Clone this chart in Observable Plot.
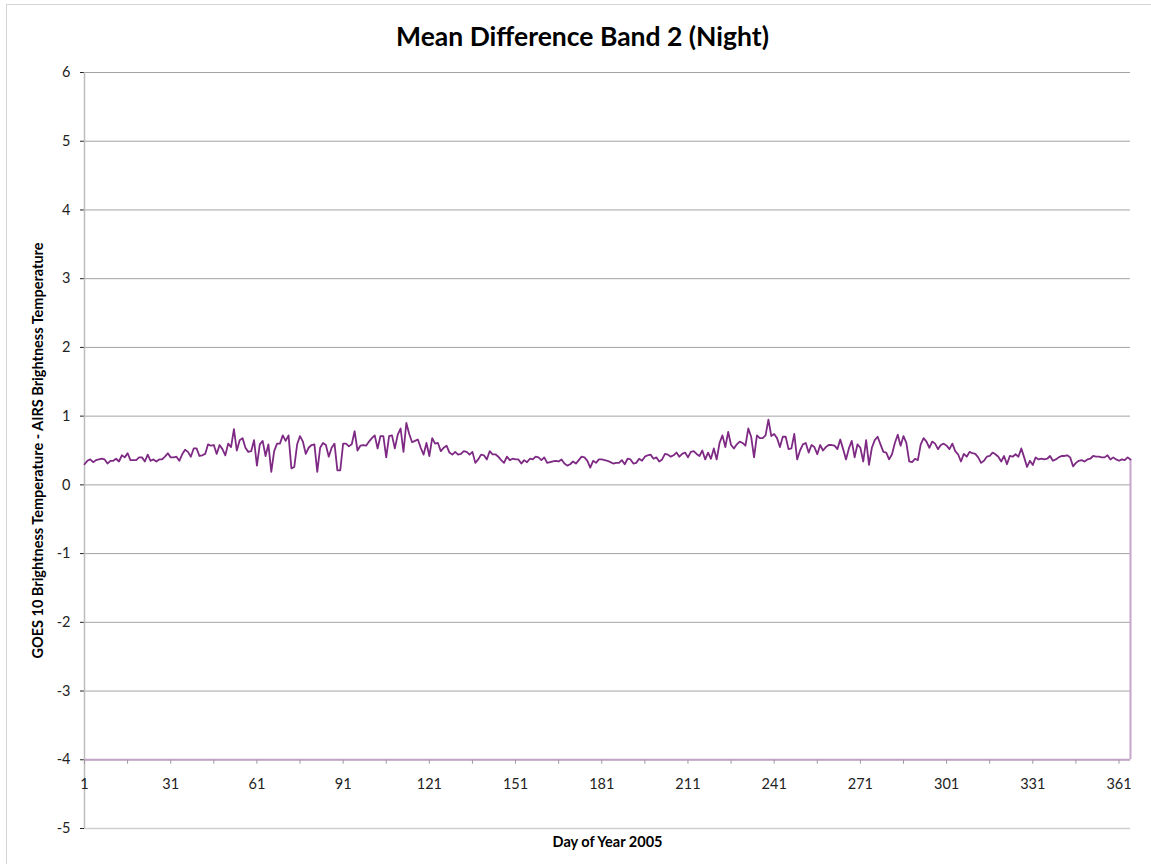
<!DOCTYPE html>
<html><head><meta charset="utf-8">
<script src="https://cdn.jsdelivr.net/npm/d3@7"></script>
<script src="https://cdn.jsdelivr.net/npm/@observablehq/plot@0.6"></script>
<style>
body{margin:0;background:#fff;font-family:Lato,"Open Sans",sans-serif;}
#wrap{position:relative;width:1151px;height:864px;overflow:hidden;}
#frame{position:absolute;left:6px;top:4px;width:1160px;height:880px;border:1px solid #d4d4d4;}
#title{position:absolute;top:20px;left:0;width:1165px;text-align:center;font-weight:bold;font-size:26.5px;color:#000;font-family:Lato,sans-serif;}
#chart{position:absolute;left:0;top:0;}
</style></head><body>
<div id="wrap"><div id="frame"></div><div id="title">Mean Difference Band 2 (Night)</div><div id="chart"></div></div>
<script>
const titleText = "Mean Difference Band 2 (Night)";
const yLabel = "GOES 10 Brightness Temperature - AIRS Brightness Temperature";
const xLabel = "Day of Year 2005";
const days = d3.range(1, 366);
const values = [
0.30,0.35,0.37,0.33,0.36,0.37,0.38,0.37,0.31,0.35,
0.35,0.38,0.34,0.43,0.40,0.46,0.36,0.36,0.36,0.40,
0.40,0.34,0.44,0.35,0.37,0.34,0.37,0.37,0.41,0.46,
0.40,0.40,0.41,0.35,0.445,0.51,0.48,0.41,0.53,0.53,
0.42,0.43,0.45,0.59,0.57,0.58,0.45,0.58,0.52,0.43,
0.60,0.55,0.81,0.50,0.65,0.68,0.54,0.48,0.49,0.65,
0.28,0.59,0.64,0.42,0.59,0.19,0.49,0.60,0.60,0.72,
0.64,0.72,0.24,0.26,0.59,0.71,0.63,0.45,0.54,0.58,
0.59,0.19,0.54,0.61,0.58,0.41,0.54,0.60,0.21,0.21,
0.60,0.60,0.56,0.59,0.78,0.50,0.57,0.58,0.57,0.63,
0.68,0.72,0.53,0.71,0.71,0.40,0.71,0.72,0.53,0.73,
0.82,0.48,0.90,0.74,0.62,0.64,0.66,0.54,0.44,0.61,
0.42,0.68,0.60,0.61,0.49,0.54,0.57,0.47,0.44,0.48,
0.44,0.45,0.49,0.48,0.44,0.48,0.32,0.37,0.44,0.43,
0.37,0.49,0.445,0.445,0.41,0.36,0.32,0.41,0.36,0.38,
0.37,0.37,0.31,0.36,0.33,0.38,0.37,0.41,0.40,0.36,
0.40,0.32,0.33,0.34,0.35,0.34,0.37,0.31,0.28,0.30,
0.34,0.31,0.36,0.41,0.40,0.35,0.25,0.35,0.32,0.37,
0.37,0.36,0.35,0.33,0.31,0.32,0.32,0.36,0.30,0.38,
0.37,0.31,0.32,0.38,0.35,0.41,0.43,0.44,0.38,0.40,
0.34,0.37,0.45,0.44,0.41,0.43,0.47,0.41,0.45,0.47,
0.40,0.48,0.49,0.45,0.42,0.50,0.37,0.47,0.38,0.53,
0.37,0.61,0.72,0.55,0.77,0.58,0.53,0.59,0.63,0.61,
0.57,0.82,0.70,0.40,0.72,0.68,0.68,0.72,0.95,0.71,
0.74,0.68,0.55,0.70,0.70,0.52,0.53,0.74,0.37,0.50,
0.59,0.61,0.47,0.58,0.55,0.445,0.58,0.50,0.55,0.58,
0.58,0.57,0.52,0.66,0.52,0.37,0.53,0.64,0.40,0.59,
0.54,0.34,0.65,0.29,0.54,0.65,0.70,0.59,0.48,0.47,
0.37,0.445,0.61,0.73,0.57,0.71,0.61,0.34,0.33,0.38,
0.36,0.59,0.68,0.63,0.54,0.63,0.60,0.52,0.58,0.60,
0.57,0.52,0.60,0.49,0.445,0.34,0.45,0.41,0.48,0.46,
0.45,0.40,0.32,0.35,0.41,0.42,0.47,0.445,0.41,0.34,
0.42,0.30,0.42,0.41,0.445,0.41,0.53,0.40,0.26,0.35,
0.29,0.40,0.37,0.38,0.37,0.38,0.42,0.35,0.37,0.40,
0.42,0.42,0.43,0.40,0.27,0.32,0.35,0.36,0.34,0.37,
0.38,0.42,0.41,0.41,0.40,0.40,0.43,0.37,0.40,0.37,
0.35,0.37,0.36,0.40,0.37
];
const yTicks = [-5,-4,-3,-2,-1,0,1,2,3,4,5,6];
const xTickLabels = [1,31,61,91,121,151,181,211,241,271,301,331,361];
const xTickMarks = d3.range(1, 366, 15);
const xAxisCross = -4;

const data = days.map((d, i) => ({day: d, v: values[i]}));
const last = data[data.length - 1];
const tickSym = {draw(ctx) { ctx.moveTo(0, 0); ctx.lineTo(0, 4); }};
const font = "Lato, 'Open Sans', sans-serif";

const chart = Plot.plot({
  width: 1151, height: 864,
  marginTop: 72, marginBottom: 36, marginLeft: 84, marginRight: 21,
  style: {fontFamily: font, fontSize: "14.5px", color: "#222", background: "transparent", overflow: "visible"},
  x: {domain: [1, 365], axis: null},
  y: {domain: [-5, 6], ticks: yTicks, tickSize: 4, tickPadding: 10, tickFormat: d => String(d), label: null},
  marks: [
    Plot.ruleY(yTicks, {stroke: "#a3a3a3", strokeWidth: 1}),
    Plot.ruleY([-5], {stroke: "#cfcfcf", strokeWidth: 1.5}),
    Plot.ruleX([days[0]], {stroke: "#bdbdbd", strokeWidth: 1.5}),
    Plot.ruleY([xAxisCross], {stroke: "#c3a3c7", strokeWidth: 2}),
    Plot.ruleX([last], {x: "day", y1: () => xAxisCross, y2: "v", stroke: "#c8a6cc", strokeWidth: 2}),
    Plot.dot(xTickMarks, {x: d => d, y: () => xAxisCross, symbol: tickSym, stroke: "#9a9a9a", fill: "none", strokeWidth: 1}),
    Plot.text(xTickLabels, {x: d => d, y: () => xAxisCross, dy: 25, text: d => String(d), fontSize: 14.5, fill: "#222"}),
    Plot.lineY(data, {x: "day", y: "v", stroke: "#7e2a84", strokeWidth: 1.8}),
    Plot.text([yLabel], {frameAnchor: "left", textAnchor: "middle", rotate: -90, dx: -46, fontWeight: "bold", fontSize: 14.5, fill: "#000"}),
    Plot.text([xLabel], {frameAnchor: "bottom", textAnchor: "middle", dy: 18, fontWeight: "bold", fontSize: 14.5, fill: "#000"})
  ]
});
document.getElementById("chart").appendChild(chart);
document.getElementById("title").textContent = titleText;
</script>
</body></html>
